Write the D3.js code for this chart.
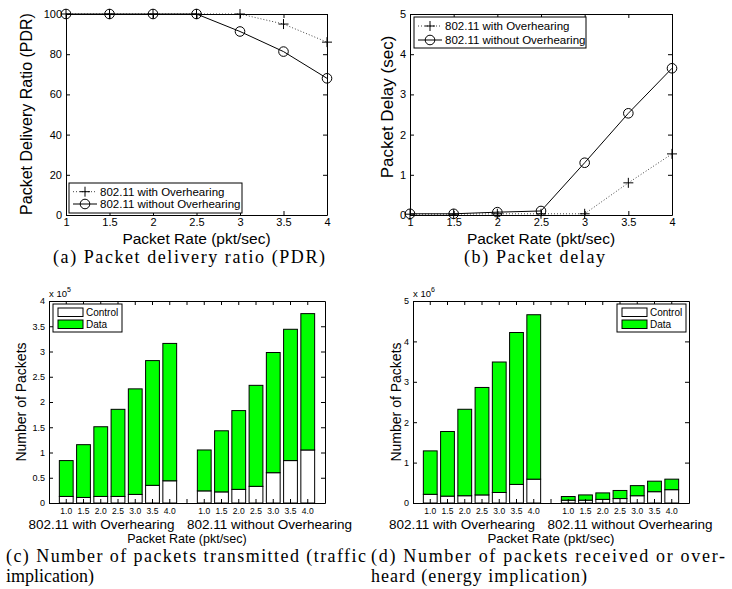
<!DOCTYPE html>
<html>
<head>
<meta charset="utf-8">
<script src="https://cdn.jsdelivr.net/npm/d3@7"></script>
<style>
body { margin: 0; background: #fff; }
svg { display: block; }
.ax text { font-family: "Liberation Sans", Arial, sans-serif; fill: #000; }
.ax path, .ax line { stroke: #000; stroke-width: 1; }
.lab { font-family: "Liberation Sans", Arial, sans-serif; fill: #000; }
.cap { font-family: "Liberation Serif", "Times New Roman", serif; font-size: 18px; fill: #000; }
</style>
</head>
<body>
<div id="fig"></div>
<script>
// packet rates (x of plots a and b)
let rates = [1, 1.5, 2, 2.5, 3, 3.5, 4];

// (a) packet delivery ratio
let pdrWith = [100, 100, 100, 100, 100, 95, 86];
let pdrWithout = [100, 100, 100, 100, 91.3, 81.3, 68];
let pdrTicks = [0, 20, 40, 60, 80, 100];

// (b) packet delay (sec)
let delayWith = [0.02, 0.02, 0.03, 0.03, 0.03, 0.8, 1.52];
let delayWithout = [0.03, 0.03, 0.07, 0.1, 1.3, 2.53, 3.65];
let delayTicks = [0, 1, 2, 3, 4, 5];

let seriesNames = ["802.11 with Overhearing", "802.11 without Overhearing"];

// bar slots: 7 rates with overhearing, empty slot, 7 rates without
let barLabels = ["1.0", "1.5", "2.0", "2.5", "3.0", "3.5", "4.0", "",
                 "1.0", "1.5", "2.0", "2.5", "3.0", "3.5", "4.0"];
let groupNames = ["802.11 with Overhearing", "802.11 without Overhearing"];

// (c) packets transmitted, x 10^5
let txControl = [0.13, 0.11, 0.13, 0.13, 0.17, 0.35, 0.44, 0,
                 0.24, 0.22, 0.27, 0.33, 0.60, 0.84, 1.05];
let txData = [0.71, 1.045, 1.38, 1.725, 2.09, 2.47, 2.72, 0,
              0.81, 1.21, 1.56, 2.0, 2.38, 2.60, 2.70];
let txTicks = [0, 0.5, 1, 1.5, 2, 2.5, 3, 3.5, 4];

// (d) packets received or overheard, x 10^6
let rxControl = [0.215, 0.17, 0.18, 0.2, 0.26, 0.46, 0.59, 0,
                 0.07, 0.07, 0.09, 0.11, 0.18, 0.28, 0.33];
let rxData = [1.075, 1.6, 2.14, 2.66, 3.23, 3.76, 4.07, 0,
              0.09, 0.13, 0.16, 0.2, 0.25, 0.26, 0.26];
let rxTicks = [0, 1, 2, 3, 4, 5];

let svg = d3.select("#fig").append("svg")
    .attr("width", 732)
    .attr("height", 589);

let plusPath = "M-5,0H5M0,-5V5";

// box with inward ticks on four sides
function boxAxes(x, y, xTicks, yTicks, xFmt, xSize, ySize, xPad) {
    let [l, r] = x.range();
    let [b, t] = y.range();
    let bottom = d3.axisBottom(x).tickSize(-4).tickSizeOuter(0).tickPadding(xPad).tickFormat(xFmt);
    let top = d3.axisTop(x).tickSize(-4).tickSizeOuter(0).tickFormat("");
    if (xTicks) { bottom.tickValues(xTicks); top.tickValues(xTicks); }
    svg.append("g").attr("class", "ax").attr("transform", "translate(0," + b + ")")
        .call(bottom).selectAll("text").style("font-size", xSize + "px");
    svg.append("g").attr("class", "ax").attr("transform", "translate(0," + t + ")").call(top);
    svg.append("g").attr("class", "ax").attr("transform", "translate(" + l + ",0)")
        .call(d3.axisLeft(y).tickValues(yTicks).tickSize(-4).tickSizeOuter(0).tickPadding(4).tickFormat(d => d))
        .selectAll("text").style("font-size", ySize + "px");
    svg.append("g").attr("class", "ax").attr("transform", "translate(" + r + ",0)")
        .call(d3.axisRight(y).tickValues(yTicks).tickSize(-4).tickSizeOuter(0).tickFormat(""));
}

function ylabel(x, y, size, str) {
    svg.append("text").attr("class", "lab")
        .attr("transform", "translate(" + x + "," + y + ")rotate(-90)")
        .attr("text-anchor", "middle")
        .style("font-size", size + "px")
        .text(str);
}

function label(x, y, size, str) {
    svg.append("text").attr("class", "lab")
        .attr("x", x).attr("y", y)
        .attr("text-anchor", "middle")
        .style("font-size", size + "px")
        .text(str);
}

function lineChart(left, right, top, bottom, yMax, yTicks, withVals, withoutVals, ytext, legend) {
    let x = d3.scaleLinear().domain([1, 4]).range([left, right]);
    let y = d3.scaleLinear().domain([0, yMax]).range([bottom, top]);

    let line = d3.line().x((d, i) => x(rates[i])).y(d => y(d));

    svg.append("path").datum(withVals)
        .attr("fill", "none").attr("stroke", "#444").attr("stroke-width", 1)
        .attr("stroke-dasharray", "1,2")
        .attr("d", line);
    svg.append("path").datum(withoutVals)
        .attr("fill", "none").attr("stroke", "#000").attr("stroke-width", 1)
        .attr("d", line);

    svg.append("g").selectAll("path").data(withVals).enter().append("path")
        .attr("transform", (d, i) => "translate(" + x(rates[i]) + "," + y(d) + ")")
        .attr("d", plusPath).attr("stroke", "#000").attr("stroke-width", 1);
    svg.append("g").selectAll("circle").data(withoutVals).enter().append("circle")
        .attr("cx", (d, i) => x(rates[i])).attr("cy", d => y(d))
        .attr("r", 4.8).attr("fill", "none").attr("stroke", "#000").attr("stroke-width", 1);

    boxAxes(x, y, rates, yTicks, d => d, 11, 11, 3);

    ylabel(legend.ylx, legend.yly, legend.ylsize, ytext);
    label((left + right) / 2, bottom + 28.5, 15.5, "Packet Rate (pkt/sec)");

    // legend
    let lg = svg.append("g");
    lg.append("rect").attr("x", legend.x).attr("y", legend.y)
        .attr("width", legend.w).attr("height", legend.h)
        .attr("fill", "#fff").attr("stroke", "#000").attr("stroke-width", 1);
    legend.rows.forEach(function (ry, i) {
        lg.append("line").attr("x1", legend.x + 4).attr("x2", legend.x + 28)
            .attr("y1", ry).attr("y2", ry)
            .attr("stroke", i == 0 ? "#444" : "#000").attr("stroke-width", 1)
            .attr("stroke-dasharray", i == 0 ? "1,2" : null);
        if (i == 0) {
            lg.append("path").attr("transform", "translate(" + (legend.x + 16) + "," + ry + ")")
                .attr("d", plusPath).attr("stroke", "#000");
        } else {
            lg.append("circle").attr("cx", legend.x + 16).attr("cy", ry).attr("r", 4.8)
                .attr("fill", "none").attr("stroke", "#000");
        }
        lg.append("text").attr("class", "lab")
            .attr("x", legend.x + 31).attr("y", ry).attr("dy", "0.35em")
            .style("font-size", "11.5px")
            .text(seriesNames[i]);
    });
}

function barChart(left, right, top, bottom, yMax, yTicks, control, data, expo, ylx, lgX, xlabSize, gOff) {
    let x = d3.scaleBand().domain(d3.range(barLabels.length))
        .range([left, right]).paddingInner(0.2).paddingOuter(0.6);
    let y = d3.scaleLinear().domain([0, yMax]).range([bottom, top]);

    let g = svg.append("g");
    g.selectAll(".ctl").data(control).enter().append("rect")
        .attr("x", (d, i) => x(i)).attr("width", x.bandwidth())
        .attr("y", d => y(d)).attr("height", d => bottom - y(d))
        .attr("fill", "#fff").attr("stroke", "#000").attr("stroke-width", 1);
    g.selectAll(".dat").data(data).enter().append("rect")
        .attr("x", (d, i) => x(i)).attr("width", x.bandwidth())
        .attr("y", (d, i) => y(d + control[i])).attr("height", (d, i) => y(control[i]) - y(d + control[i]))
        .attr("fill", "#00ff00").attr("stroke", "#000").attr("stroke-width", 1);

    boxAxes(x, y, null, yTicks, (d, i) => barLabels[i], 8.5, 9, 5);

    // exponent
    let ex = svg.append("text").attr("class", "lab").attr("x", left).attr("y", top - 4)
        .style("font-size", "9.5px").text("x 10");
    ex.append("tspan").attr("dy", -5).style("font-size", "7px").text(expo);

    ylabel(ylx, (top + bottom) / 2, 14, "Number of Packets");
    let cx = (left + right) / 2;
    label(cx + gOff[0], bottom + 25.5, 13.5, groupNames[0]);
    label(cx + gOff[1], bottom + 25.5, 13.5, groupNames[1]);
    label(cx, bottom + 39.5, xlabSize, "Packet Rate (pkt/sec)");

    // legend
    let lg = svg.append("g");
    lg.append("rect").attr("x", lgX).attr("y", top + 3).attr("width", 69).attr("height", 28)
        .attr("fill", "#fff").attr("stroke", "#000").attr("stroke-width", 1);
    ["Control", "Data"].forEach(function (n, i) {
        let ry = top + 11 + i * 12;
        lg.append("rect").attr("x", lgX + 5).attr("y", ry - 4).attr("width", 25).attr("height", 8.5)
            .attr("fill", i == 0 ? "#fff" : "#00ff00").attr("stroke", "#000").attr("stroke-width", 1);
        lg.append("text").attr("class", "lab").attr("x", lgX + 33).attr("y", ry).attr("dy", "0.35em")
            .style("font-size", "10px").text(n);
    });
}

lineChart(66, 327, 14, 215, 100, pdrTicks, pdrWith, pdrWithout,
    "Packet Delivery Ratio (PDR)",
    {x: 69, y: 183, w: 173, h: 30, rows: [191.7, 204], ylx: 32, yly: 114, ylsize: 16});
lineChart(410, 672, 14, 215, 5, delayTicks, delayWith, delayWithout,
    "Packet Delay (sec)",
    {x: 414, y: 17, w: 172, h: 31, rows: [26, 40], ylx: 393, yly: 107, ylsize: 17});

barChart(49, 325, 301, 503, 4, txTicks, txControl, txData, "5", 26, 53, 12.5, [-85.5, 82.5]);
barChart(413, 689, 301, 503, 5, rxTicks, rxControl, rxData, "6", 401, 617, 13.3, [-89, 79]);

// sub-figure captions, stretched to the widths of the typeset lines
function caption(x, y, str, width) {
    let t = svg.append("text").attr("class", "cap").attr("x", x).attr("y", y).text(str);
    if (width) {
        t.attr("textLength", width).attr("lengthAdjust", "spacing");
    }
}
caption(53, 263, "(a) Packet delivery ratio (PDR)", 272);
caption(464, 263, "(b) Packet delay", 141);
caption(6, 562, "(c) Number of packets transmitted (traffic", 360);
caption(6, 582, "implication)");
caption(371, 562, "(d) Number of packets received or over-", 354);
caption(371, 582, "heard (energy implication)", 216);
</script>
</body>
</html>
